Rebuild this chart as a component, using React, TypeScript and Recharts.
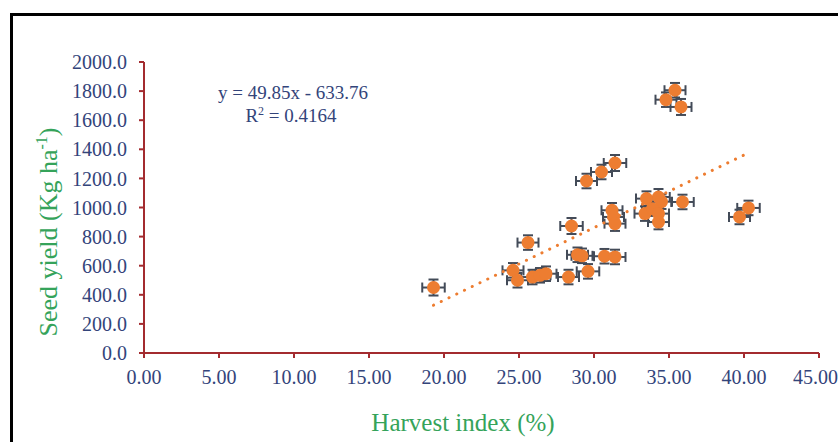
import React from 'react';
import { ComposedChart, Scatter, Line, XAxis, YAxis, ErrorBar, Customized } from 'recharts';

// harvest index (%) and seed yield (kg/ha)
const harvestIndex = [19.3, 24.6, 24.9, 25.6, 25.9, 26.4, 26.8, 28.3, 28.5, 28.9, 29.2, 29.6, 30.7, 31.4, 29.5, 30.5, 31.4, 31.2, 31.3, 31.4, 33.4, 33.5, 34.3, 34.5, 33.9, 34.3, 34.3, 35.9, 35.4, 34.8, 35.8, 40.3, 39.7];
const seedYield = [450, 568, 500, 759, 522, 534, 545, 522, 873, 675, 668, 561, 665, 660, 1182, 1244, 1306, 981, 935, 889, 958, 1061, 1072, 1040, 992, 958, 900, 1038, 1806, 1741, 1691, 997, 935];
const errHI = [0.75, 0.7, 0.7, 0.7, 0.75, 0.7, 0.7, 0.7, 0.75, 0.7, 0.7, 0.75, 0.7, 0.7, 0.7, 0.7, 0.75, 0.7, 0.7, 0.7, 0.7, 0.7, 0.75, 0.7, 0.7, 0.7, 0.7, 0.75, 0.7, 0.7, 0.7, 0.75, 0.7];
const errSY = [55, 50, 50, 50, 50, 50, 50, 50, 55, 50, 50, 50, 50, 50, 50, 50, 55, 50, 50, 50, 50, 50, 55, 50, 50, 50, 50, 50, 50, 50, 55, 50, 50];

const xTicks = [0, 5, 10, 15, 20, 25, 30, 35, 40, 45];
const yTicks = [0, 200, 400, 600, 800, 1000, 1200, 1400, 1600, 1800, 2000];

// linear trend as printed on the chart
const slope = 49.85;
const intercept = -633.76;
const r2 = 0.4164;

const points = harvestIndex.map((x, i) => ({ x, y: seedYield[i], ex: errHI[i], ey: errSY[i] }));
const xMin = Math.min(...harvestIndex);
const xMax = Math.max(...harvestIndex);
const trend = [xMin, xMax].map((x) => ({ x, y: slope * x + intercept }));

const ORANGE = '#ED7D31';
const AXIS = '#A32B2F';
const NAVY = '#33447A';
const GREEN = '#35A35A';
const FONT = '"Liberation Serif", "Times New Roman", serif';

const Dot = (p: any) => <circle cx={p.cx} cy={p.cy} r={6.5} fill={ORANGE} />;

const Annotations = () => (
  <g fontFamily={FONT}>
    <text x={293} y={99} textAnchor="middle" fontSize={19} fill={NAVY}>
      {`y = ${slope}x - ${Math.abs(intercept)}`}
    </text>
    <text x={291} y={122} textAnchor="middle" fontSize={19} fill={NAVY}>
      R<tspan fontSize={12} dy={-7}>2</tspan><tspan dy={7}>{` = ${r2}`}</tspan>
    </text>
    <text transform="translate(57, 232) rotate(-90)" textAnchor="middle" fontSize={26} fill={GREEN}>
      Seed yield (Kg ha<tspan fontSize={16} dy={-10}>-1</tspan><tspan dy={10}>)</tspan>
    </text>
    <text x={463} y={431} textAnchor="middle" fontSize={25} fill={GREEN}>
      Harvest index (%)
    </text>
  </g>
);

export default function App() {
  return (
    <div style={{ position: 'absolute', left: 0, top: 0, width: 838, height: 442, background: '#fff', fontFamily: FONT }}>
      <div style={{ position: 'absolute', left: 10, top: 13, width: 840, height: 440, borderLeft: '3px solid #000', borderTop: '3px solid #000' }} />
      <ComposedChart width={838} height={442} margin={{ top: 62, right: 19, left: 0, bottom: 0 }}>
        <XAxis
          type="number"
          dataKey="x"
          domain={[0, 45]}
          ticks={xTicks}
          height={89}
          tickSize={5}
          tickMargin={12}
          axisLine={{ stroke: AXIS, strokeWidth: 2 }}
          tickLine={{ stroke: AXIS, strokeWidth: 2 }}
          tick={{ fill: NAVY, fontSize: 20, fontFamily: FONT }}
          tickFormatter={(v: number) => v.toFixed(2)}
        />
        <YAxis
          type="number"
          dataKey="y"
          domain={[0, 2000]}
          ticks={yTicks}
          width={144}
          tickSize={5}
          tickMargin={12}
          axisLine={{ stroke: AXIS, strokeWidth: 2 }}
          tickLine={{ stroke: AXIS, strokeWidth: 2 }}
          tick={{ fill: NAVY, fontSize: 20, fontFamily: FONT }}
          tickFormatter={(v: number) => v.toFixed(1)}
        />
        <Scatter data={points} dataKey="y" shape={Dot} isAnimationActive={false}>
          <ErrorBar dataKey="ex" direction="x" width={5} stroke="#434B58" strokeWidth={2} />
          <ErrorBar dataKey="ey" direction="y" width={5} stroke="#434B58" strokeWidth={2} />
        </Scatter>
        <Line
          data={trend}
          dataKey="y"
          stroke={ORANGE}
          strokeWidth={3}
          strokeDasharray="0.1 8.5"
          strokeLinecap="round"
          dot={false}
          activeDot={false}
          isAnimationActive={false}
        />
        <Customized component={Annotations} />
      </ComposedChart>
    </div>
  );
}
